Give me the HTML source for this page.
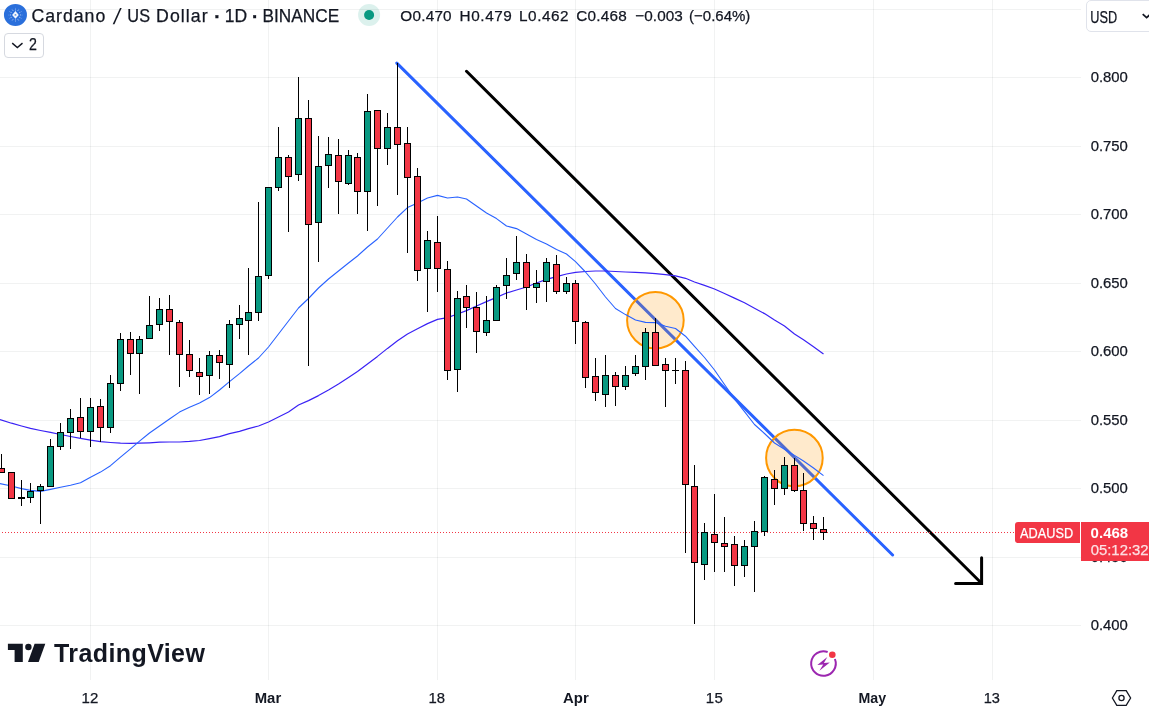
<!DOCTYPE html><html><head><meta charset="utf-8"><title>ADAUSD</title><style>
html,body{margin:0;padding:0;background:#fff;}
body{width:1149px;height:707px;position:relative;overflow:hidden;font-family:"Liberation Sans",sans-serif;color:#131722;}
.t{position:absolute;white-space:nowrap;line-height:1;-webkit-text-stroke:0.25px currentColor;}
.ax{font-size:14.5px;left:1091px;}
.tx{font-size:14.5px;transform:translateX(-50%);top:690px;}
.b{font-weight:bold;}
</style></head><body>
<svg width="1149" height="707" viewBox="0 0 1149 707" style="position:absolute;left:0;top:0">
<g shape-rendering="crispEdges" stroke="rgba(35,50,45,0.062)" stroke-width="1">
<line x1="90.5" y1="0" x2="90.5" y2="680"/>
<line x1="268.5" y1="0" x2="268.5" y2="680"/>
<line x1="437.5" y1="0" x2="437.5" y2="680"/>
<line x1="575.5" y1="0" x2="575.5" y2="680"/>
<line x1="714.5" y1="0" x2="714.5" y2="680"/>
<line x1="873.5" y1="0" x2="873.5" y2="680"/>
<line x1="992.5" y1="0" x2="992.5" y2="680"/>
<line x1="0" y1="9.5" x2="1081" y2="9.5"/>
<line x1="0" y1="77.5" x2="1081" y2="77.5"/>
<line x1="0" y1="146.5" x2="1081" y2="146.5"/>
<line x1="0" y1="214.5" x2="1081" y2="214.5"/>
<line x1="0" y1="283.5" x2="1081" y2="283.5"/>
<line x1="0" y1="351.5" x2="1081" y2="351.5"/>
<line x1="0" y1="420.5" x2="1081" y2="420.5"/>
<line x1="0" y1="488.5" x2="1081" y2="488.5"/>
<line x1="0" y1="557.5" x2="1081" y2="557.5"/>
<line x1="0" y1="625.5" x2="1081" y2="625.5"/>
</g>
<line x1="396.8" y1="63.1" x2="892.6" y2="555" stroke="#2962FF" stroke-width="3" stroke-linecap="round"/>
<circle cx="655.4" cy="320.3" r="28.3" fill="rgba(255,152,0,0.2)" stroke="#FF9800" stroke-width="2"/>
<circle cx="794.4" cy="458" r="28.3" fill="rgba(255,152,0,0.2)" stroke="#FF9800" stroke-width="2"/>
<g stroke="#000" stroke-width="3" stroke-linecap="round" fill="none"><line x1="466.5" y1="71.3" x2="981.5" y2="583.3"/><polyline points="955.6,583.4 981.6,583.4 981.6,557.8" stroke-linejoin="miter"/></g>
<line x1="-1" y1="532.5" x2="1015" y2="532.5" stroke="#F23645" stroke-width="1" stroke-dasharray="1 2" shape-rendering="crispEdges"/>
<polyline fill="none" stroke="#3A22F5" stroke-width="1.2" stroke-linejoin="round" points="0,419.5 11.5,423.2 21.5,426 30.5,428.4 40.5,430.5 50.5,432.4 60.5,434.5 70.5,436.5 80.5,438.4 90.5,440.2 100.5,441.7 110.5,442.5 120.5,443.1 130.5,443.4 139.5,443.2 149.5,442.8 159.5,442.2 169.5,442 179.5,442 189.5,441.4 199.5,440.5 209.5,438.6 219.5,436.6 229.5,433.6 239.5,431.4 248.5,428.6 258.5,426 268.5,422 278.5,417 288.5,412 298.5,405 308.5,400.6 318.5,395.6 328.5,390 338.5,384 348.5,377.6 357.5,371.6 367.5,364 377.5,356.4 387.5,348.4 397.5,340.8 407.5,334 417.5,328.8 427.5,323.6 437.5,319.4 447.5,317.6 457.5,314 466.5,310.6 476.5,306 486.5,301.6 496.5,297.4 506.5,293 516.5,290 526.5,287 536.5,283 546.5,279.4 556.5,276.6 566.5,274 575.5,272.3 585.5,271.5 595.5,271 605.5,271 615.5,271.5 625.5,272 635.5,272.4 645.5,272.8 655.5,273.6 665.5,274.6 675.5,275.8 685.5,278.3 694.5,282 704.5,285.4 714.5,289 724.5,293.5 734.5,298.1 744.5,302.8 754.5,308.2 764.5,313.6 774.5,320 784.5,326 794.5,334 803.5,339.8 813.5,346.8 823.5,354"/>
<polyline fill="none" stroke="#2962FF" stroke-width="1.1" stroke-linejoin="round" points="0,483.6 11.5,486 21.5,488.6 30.5,490.4 40.5,491.4 50.5,489.4 60.5,487.2 70.5,485.2 80.5,482.8 90.5,477.2 100.5,472.1 110.5,465.7 120.5,457.2 130.5,448.8 139.5,441.2 149.5,433 159.5,426 169.5,419 179.5,412.1 189.5,407.2 199.5,403 209.5,397.6 219.5,390 229.5,381.6 239.5,373.6 248.5,366 258.5,358 268.5,347 278.5,334 288.5,321 298.5,308 308.5,298.5 318.5,288 328.5,279 338.5,271 348.5,263 357.5,256 367.5,247 377.5,239 387.5,228 397.5,217 407.5,207.6 417.5,203 427.5,198 437.5,195.4 447.5,198 457.5,197 466.5,199 476.5,206 486.5,213 496.5,218.6 506.5,226 516.5,228.6 526.5,234 536.5,239.6 546.5,244 556.5,249.4 566.5,254 575.5,261.6 585.5,272 595.5,284 605.5,297 615.5,308.5 625.5,314.6 635.5,320 645.5,322.4 655.5,322.6 665.5,326.3 675.5,328.5 685.5,336.2 694.5,346.3 704.5,357.5 714.5,370 724.5,384.5 734.5,398.8 744.5,411.6 754.5,424.5 764.5,433.5 774.5,443 784.5,449.3 794.5,455.4 803.5,461 813.5,468 823.5,475.6"/>
<g shape-rendering="crispEdges">
<rect x="1.0" y="454" width="1" height="18" fill="#000"/>
<rect x="-2.0" y="468" width="7" height="5" fill="#000"/>
<rect x="-1.0" y="469" width="5" height="3" fill="#F23645"/>
<rect x="11.0" y="472" width="1" height="27" fill="#000"/>
<rect x="8.0" y="472" width="7" height="27" fill="#000"/>
<rect x="9.0" y="473" width="5" height="25" fill="#F23645"/>
<rect x="21.0" y="480" width="1" height="26" fill="#000"/>
<rect x="18.0" y="497" width="7" height="2" fill="#000"/>
<rect x="30.0" y="483" width="1" height="20" fill="#000"/>
<rect x="27.0" y="491" width="7" height="7" fill="#000"/>
<rect x="28.0" y="492" width="5" height="5" fill="#089981"/>
<rect x="40.0" y="484" width="1" height="40" fill="#000"/>
<rect x="37.0" y="486" width="7" height="5" fill="#000"/>
<rect x="38.0" y="487" width="5" height="3" fill="#089981"/>
<rect x="50.0" y="439" width="1" height="47" fill="#000"/>
<rect x="47.0" y="446" width="7" height="41" fill="#000"/>
<rect x="48.0" y="447" width="5" height="39" fill="#089981"/>
<rect x="60.0" y="423" width="1" height="27" fill="#000"/>
<rect x="57.0" y="432" width="7" height="15" fill="#000"/>
<rect x="58.0" y="433" width="5" height="13" fill="#089981"/>
<rect x="70.0" y="409" width="1" height="40" fill="#000"/>
<rect x="67.0" y="418" width="7" height="15" fill="#000"/>
<rect x="68.0" y="419" width="5" height="13" fill="#089981"/>
<rect x="80.0" y="398" width="1" height="40" fill="#000"/>
<rect x="77.0" y="417" width="7" height="15" fill="#000"/>
<rect x="78.0" y="418" width="5" height="13" fill="#F23645"/>
<rect x="90.0" y="398" width="1" height="49" fill="#000"/>
<rect x="87.0" y="407" width="7" height="25" fill="#000"/>
<rect x="88.0" y="408" width="5" height="23" fill="#089981"/>
<rect x="100.0" y="399" width="1" height="43" fill="#000"/>
<rect x="97.0" y="406" width="7" height="22" fill="#000"/>
<rect x="98.0" y="407" width="5" height="20" fill="#F23645"/>
<rect x="110.0" y="375" width="1" height="58" fill="#000"/>
<rect x="107.0" y="383" width="7" height="45" fill="#000"/>
<rect x="108.0" y="384" width="5" height="43" fill="#089981"/>
<rect x="120.0" y="333" width="1" height="58" fill="#000"/>
<rect x="117.0" y="339" width="7" height="45" fill="#000"/>
<rect x="118.0" y="340" width="5" height="43" fill="#089981"/>
<rect x="130.0" y="332" width="1" height="43" fill="#000"/>
<rect x="127.0" y="339" width="7" height="15" fill="#000"/>
<rect x="128.0" y="340" width="5" height="13" fill="#F23645"/>
<rect x="139.0" y="336" width="1" height="58" fill="#000"/>
<rect x="136.0" y="339" width="7" height="15" fill="#000"/>
<rect x="137.0" y="340" width="5" height="13" fill="#089981"/>
<rect x="149.0" y="296" width="1" height="42" fill="#000"/>
<rect x="146.0" y="325" width="7" height="14" fill="#000"/>
<rect x="147.0" y="326" width="5" height="12" fill="#089981"/>
<rect x="159.0" y="298" width="1" height="33" fill="#000"/>
<rect x="156.0" y="309" width="7" height="16" fill="#000"/>
<rect x="157.0" y="310" width="5" height="14" fill="#089981"/>
<rect x="169.0" y="295" width="1" height="60" fill="#000"/>
<rect x="166.0" y="309" width="7" height="13" fill="#000"/>
<rect x="167.0" y="310" width="5" height="11" fill="#F23645"/>
<rect x="179.0" y="320" width="1" height="67" fill="#000"/>
<rect x="176.0" y="322" width="7" height="33" fill="#000"/>
<rect x="177.0" y="323" width="5" height="31" fill="#F23645"/>
<rect x="189.0" y="340" width="1" height="37" fill="#000"/>
<rect x="186.0" y="354" width="7" height="17" fill="#000"/>
<rect x="187.0" y="355" width="5" height="15" fill="#F23645"/>
<rect x="199.0" y="358" width="1" height="37" fill="#000"/>
<rect x="196.0" y="372" width="7" height="5" fill="#000"/>
<rect x="197.0" y="373" width="5" height="3" fill="#F23645"/>
<rect x="209.0" y="351" width="1" height="43" fill="#000"/>
<rect x="206.0" y="355" width="7" height="21" fill="#000"/>
<rect x="207.0" y="356" width="5" height="19" fill="#089981"/>
<rect x="219.0" y="350" width="1" height="29" fill="#000"/>
<rect x="216.0" y="355" width="7" height="8" fill="#000"/>
<rect x="217.0" y="356" width="5" height="6" fill="#F23645"/>
<rect x="229.0" y="320" width="1" height="68" fill="#000"/>
<rect x="226.0" y="324" width="7" height="41" fill="#000"/>
<rect x="227.0" y="325" width="5" height="39" fill="#089981"/>
<rect x="239.0" y="305" width="1" height="34" fill="#000"/>
<rect x="236.0" y="318" width="7" height="7" fill="#000"/>
<rect x="237.0" y="319" width="5" height="5" fill="#089981"/>
<rect x="248.0" y="268" width="1" height="87" fill="#000"/>
<rect x="245.0" y="312" width="7" height="9" fill="#000"/>
<rect x="246.0" y="313" width="5" height="7" fill="#089981"/>
<rect x="258.0" y="202" width="1" height="119" fill="#000"/>
<rect x="255.0" y="276" width="7" height="37" fill="#000"/>
<rect x="256.0" y="277" width="5" height="35" fill="#089981"/>
<rect x="268.0" y="187" width="1" height="92" fill="#000"/>
<rect x="265.0" y="187" width="7" height="89" fill="#000"/>
<rect x="266.0" y="188" width="5" height="87" fill="#089981"/>
<rect x="278.0" y="127" width="1" height="64" fill="#000"/>
<rect x="275.0" y="157" width="7" height="31" fill="#000"/>
<rect x="276.0" y="158" width="5" height="29" fill="#089981"/>
<rect x="288.0" y="155" width="1" height="77" fill="#000"/>
<rect x="285.0" y="157" width="7" height="20" fill="#000"/>
<rect x="286.0" y="158" width="5" height="18" fill="#F23645"/>
<rect x="298.0" y="77" width="1" height="104" fill="#000"/>
<rect x="295.0" y="118" width="7" height="57" fill="#000"/>
<rect x="296.0" y="119" width="5" height="55" fill="#089981"/>
<rect x="308.0" y="100" width="1" height="266" fill="#000"/>
<rect x="305.0" y="118" width="7" height="107" fill="#000"/>
<rect x="306.0" y="119" width="5" height="105" fill="#F23645"/>
<rect x="318.0" y="136" width="1" height="126" fill="#000"/>
<rect x="315.0" y="166" width="7" height="57" fill="#000"/>
<rect x="316.0" y="167" width="5" height="55" fill="#089981"/>
<rect x="328.0" y="137" width="1" height="51" fill="#000"/>
<rect x="325.0" y="154" width="7" height="12" fill="#000"/>
<rect x="326.0" y="155" width="5" height="10" fill="#089981"/>
<rect x="338.0" y="139" width="1" height="75" fill="#000"/>
<rect x="335.0" y="155" width="7" height="27" fill="#000"/>
<rect x="336.0" y="156" width="5" height="25" fill="#F23645"/>
<rect x="348.0" y="150" width="1" height="35" fill="#000"/>
<rect x="345.0" y="155" width="7" height="29" fill="#000"/>
<rect x="346.0" y="156" width="5" height="27" fill="#089981"/>
<rect x="357.0" y="153" width="1" height="61" fill="#000"/>
<rect x="354.0" y="157" width="7" height="35" fill="#000"/>
<rect x="355.0" y="158" width="5" height="33" fill="#F23645"/>
<rect x="367.0" y="94" width="1" height="137" fill="#000"/>
<rect x="364.0" y="111" width="7" height="81" fill="#000"/>
<rect x="365.0" y="112" width="5" height="79" fill="#089981"/>
<rect x="377.0" y="110" width="1" height="96" fill="#000"/>
<rect x="374.0" y="110" width="7" height="39" fill="#000"/>
<rect x="375.0" y="111" width="5" height="37" fill="#F23645"/>
<rect x="387.0" y="113" width="1" height="52" fill="#000"/>
<rect x="384.0" y="127" width="7" height="22" fill="#000"/>
<rect x="385.0" y="128" width="5" height="20" fill="#089981"/>
<rect x="397.0" y="63" width="1" height="132" fill="#000"/>
<rect x="394.0" y="127" width="7" height="18" fill="#000"/>
<rect x="395.0" y="128" width="5" height="16" fill="#F23645"/>
<rect x="407.0" y="127" width="1" height="126" fill="#000"/>
<rect x="404.0" y="143" width="7" height="35" fill="#000"/>
<rect x="405.0" y="144" width="5" height="33" fill="#F23645"/>
<rect x="417.0" y="168" width="1" height="113" fill="#000"/>
<rect x="414.0" y="176" width="7" height="95" fill="#000"/>
<rect x="415.0" y="177" width="5" height="93" fill="#F23645"/>
<rect x="427.0" y="231" width="1" height="81" fill="#000"/>
<rect x="424.0" y="240" width="7" height="29" fill="#000"/>
<rect x="425.0" y="241" width="5" height="27" fill="#089981"/>
<rect x="437.0" y="216" width="1" height="76" fill="#000"/>
<rect x="434.0" y="242" width="7" height="27" fill="#000"/>
<rect x="435.0" y="243" width="5" height="25" fill="#F23645"/>
<rect x="447.0" y="261" width="1" height="119" fill="#000"/>
<rect x="444.0" y="269" width="7" height="102" fill="#000"/>
<rect x="445.0" y="270" width="5" height="100" fill="#F23645"/>
<rect x="457.0" y="291" width="1" height="101" fill="#000"/>
<rect x="454.0" y="298" width="7" height="72" fill="#000"/>
<rect x="455.0" y="299" width="5" height="70" fill="#089981"/>
<rect x="466.0" y="285" width="1" height="43" fill="#000"/>
<rect x="463.0" y="296" width="7" height="12" fill="#000"/>
<rect x="464.0" y="297" width="5" height="10" fill="#F23645"/>
<rect x="476.0" y="292" width="1" height="61" fill="#000"/>
<rect x="473.0" y="307" width="7" height="25" fill="#000"/>
<rect x="474.0" y="308" width="5" height="23" fill="#F23645"/>
<rect x="486.0" y="296" width="1" height="40" fill="#000"/>
<rect x="483.0" y="320" width="7" height="13" fill="#000"/>
<rect x="484.0" y="321" width="5" height="11" fill="#089981"/>
<rect x="496.0" y="285" width="1" height="35" fill="#000"/>
<rect x="493.0" y="287" width="7" height="34" fill="#000"/>
<rect x="494.0" y="288" width="5" height="32" fill="#089981"/>
<rect x="506.0" y="258" width="1" height="41" fill="#000"/>
<rect x="503.0" y="275" width="7" height="11" fill="#000"/>
<rect x="504.0" y="276" width="5" height="9" fill="#089981"/>
<rect x="516.0" y="236" width="1" height="44" fill="#000"/>
<rect x="513.0" y="262" width="7" height="12" fill="#000"/>
<rect x="514.0" y="263" width="5" height="10" fill="#089981"/>
<rect x="526.0" y="254" width="1" height="56" fill="#000"/>
<rect x="523.0" y="262" width="7" height="26" fill="#000"/>
<rect x="524.0" y="263" width="5" height="24" fill="#F23645"/>
<rect x="536.0" y="270" width="1" height="33" fill="#000"/>
<rect x="533.0" y="283" width="7" height="5" fill="#000"/>
<rect x="534.0" y="284" width="5" height="3" fill="#089981"/>
<rect x="546.0" y="258" width="1" height="44" fill="#000"/>
<rect x="543.0" y="262" width="7" height="20" fill="#000"/>
<rect x="544.0" y="263" width="5" height="18" fill="#089981"/>
<rect x="556.0" y="255" width="1" height="39" fill="#000"/>
<rect x="553.0" y="264" width="7" height="28" fill="#000"/>
<rect x="554.0" y="265" width="5" height="26" fill="#F23645"/>
<rect x="566.0" y="277" width="1" height="17" fill="#000"/>
<rect x="563.0" y="283" width="7" height="9" fill="#000"/>
<rect x="564.0" y="284" width="5" height="7" fill="#089981"/>
<rect x="575.0" y="280" width="1" height="64" fill="#000"/>
<rect x="572.0" y="283" width="7" height="39" fill="#000"/>
<rect x="573.0" y="284" width="5" height="37" fill="#F23645"/>
<rect x="585.0" y="321" width="1" height="67" fill="#000"/>
<rect x="582.0" y="322" width="7" height="56" fill="#000"/>
<rect x="583.0" y="323" width="5" height="54" fill="#F23645"/>
<rect x="595.0" y="358" width="1" height="43" fill="#000"/>
<rect x="592.0" y="376" width="7" height="17" fill="#000"/>
<rect x="593.0" y="377" width="5" height="15" fill="#F23645"/>
<rect x="605.0" y="355" width="1" height="52" fill="#000"/>
<rect x="602.0" y="375" width="7" height="20" fill="#000"/>
<rect x="603.0" y="376" width="5" height="18" fill="#089981"/>
<rect x="615.0" y="372" width="1" height="34" fill="#000"/>
<rect x="612.0" y="375" width="7" height="12" fill="#000"/>
<rect x="613.0" y="376" width="5" height="10" fill="#F23645"/>
<rect x="625.0" y="366" width="1" height="24" fill="#000"/>
<rect x="622.0" y="375" width="7" height="12" fill="#000"/>
<rect x="623.0" y="376" width="5" height="10" fill="#089981"/>
<rect x="635.0" y="355" width="1" height="21" fill="#000"/>
<rect x="632.0" y="366" width="7" height="8" fill="#000"/>
<rect x="633.0" y="367" width="5" height="6" fill="#089981"/>
<rect x="645.0" y="328" width="1" height="52" fill="#000"/>
<rect x="642.0" y="332" width="7" height="35" fill="#000"/>
<rect x="643.0" y="333" width="5" height="33" fill="#089981"/>
<rect x="655.0" y="318" width="1" height="47" fill="#000"/>
<rect x="652.0" y="332" width="7" height="34" fill="#000"/>
<rect x="653.0" y="333" width="5" height="32" fill="#F23645"/>
<rect x="665.0" y="358" width="1" height="49" fill="#000"/>
<rect x="662.0" y="364" width="7" height="7" fill="#000"/>
<rect x="663.0" y="365" width="5" height="5" fill="#F23645"/>
<rect x="675.0" y="358" width="1" height="26" fill="#000"/>
<rect x="672.0" y="370" width="7" height="1" fill="#000"/>
<rect x="685.0" y="361" width="1" height="192" fill="#000"/>
<rect x="682.0" y="370" width="7" height="115" fill="#000"/>
<rect x="683.0" y="371" width="5" height="113" fill="#F23645"/>
<rect x="694.0" y="465" width="1" height="159" fill="#000"/>
<rect x="691.0" y="486" width="7" height="77" fill="#000"/>
<rect x="692.0" y="487" width="5" height="75" fill="#F23645"/>
<rect x="704.0" y="523" width="1" height="57" fill="#000"/>
<rect x="701.0" y="532" width="7" height="33" fill="#000"/>
<rect x="702.0" y="533" width="5" height="31" fill="#089981"/>
<rect x="714.0" y="494" width="1" height="78" fill="#000"/>
<rect x="711.0" y="534" width="7" height="9" fill="#000"/>
<rect x="712.0" y="535" width="5" height="7" fill="#F23645"/>
<rect x="724.0" y="517" width="1" height="55" fill="#000"/>
<rect x="721.0" y="543" width="7" height="4" fill="#000"/>
<rect x="722.0" y="544" width="5" height="2" fill="#F23645"/>
<rect x="734.0" y="536" width="1" height="50" fill="#000"/>
<rect x="731.0" y="544" width="7" height="22" fill="#000"/>
<rect x="732.0" y="545" width="5" height="20" fill="#F23645"/>
<rect x="744.0" y="540" width="1" height="37" fill="#000"/>
<rect x="741.0" y="546" width="7" height="20" fill="#000"/>
<rect x="742.0" y="547" width="5" height="18" fill="#089981"/>
<rect x="754.0" y="521" width="1" height="71" fill="#000"/>
<rect x="751.0" y="531" width="7" height="16" fill="#000"/>
<rect x="752.0" y="532" width="5" height="14" fill="#089981"/>
<rect x="764.0" y="476" width="1" height="60" fill="#000"/>
<rect x="761.0" y="477" width="7" height="55" fill="#000"/>
<rect x="762.0" y="478" width="5" height="53" fill="#089981"/>
<rect x="774.0" y="470" width="1" height="35" fill="#000"/>
<rect x="771.0" y="479" width="7" height="10" fill="#000"/>
<rect x="772.0" y="480" width="5" height="8" fill="#F23645"/>
<rect x="784.0" y="457" width="1" height="38" fill="#000"/>
<rect x="781.0" y="465" width="7" height="24" fill="#000"/>
<rect x="782.0" y="466" width="5" height="22" fill="#089981"/>
<rect x="794.0" y="458" width="1" height="34" fill="#000"/>
<rect x="791.0" y="465" width="7" height="26" fill="#000"/>
<rect x="792.0" y="466" width="5" height="24" fill="#F23645"/>
<rect x="803.0" y="473" width="1" height="58" fill="#000"/>
<rect x="800.0" y="490" width="7" height="34" fill="#000"/>
<rect x="801.0" y="491" width="5" height="32" fill="#F23645"/>
<rect x="813.0" y="516" width="1" height="24" fill="#000"/>
<rect x="810.0" y="523" width="7" height="6" fill="#000"/>
<rect x="811.0" y="524" width="5" height="4" fill="#F23645"/>
<rect x="823.0" y="517" width="1" height="23" fill="#000"/>
<rect x="820.0" y="529" width="7" height="4" fill="#000"/>
<rect x="821.0" y="530" width="5" height="2" fill="#F23645"/>
</g>
<g fill="none" stroke="#9C27B0" stroke-width="2"><path d="M827.66,651.94 A12.3,12.3 0 1 0 834.9,659.0"/></g>
<path d="M827.3,656.9 L817.3,664.9 L823.2,664.5 L819.4,670.7 L829.8,662.5 L823.9,662.9 Z" fill="#9C27B0"/>
<circle cx="832.3" cy="654.8" r="3.3" fill="#F23645"/>
<g fill="none" stroke="#131722" stroke-width="1.3"><polygon points="1112.4,698 1116.8,690.6 1126.2,690.6 1130.6,698 1126.2,705.4 1116.8,705.4"/><circle cx="1121.5" cy="698" r="2.6"/></g>
<g fill="#131722"><path d="M7.9,643.8 H22.8 V662 H14.6 V650.1 H7.9 Z"/><circle cx="28.4" cy="647" r="3.2"/><path d="M34.6,643.8 H45.3 L38.7,662 H28 Z"/></g>
<ellipse cx="15.45" cy="14.9" rx="11.5" ry="11" fill="#2A6FDB"/>
<polygon points="15.45,11.0 18.75,14.9 15.45,18.8 12.149999999999999,14.9" fill="#fff" fill-opacity="0.95"/>
<ellipse cx="15.45" cy="14.9" rx="1.0" ry="0.7" fill="#2A6FDB"/>
<circle cx="20.45" cy="14.90" r="0.55" fill="#fff" fill-opacity="0.55"/>
<circle cx="19.78" cy="17.40" r="0.55" fill="#fff" fill-opacity="0.55"/>
<circle cx="17.95" cy="19.23" r="0.55" fill="#fff" fill-opacity="0.55"/>
<circle cx="15.45" cy="19.90" r="0.55" fill="#fff" fill-opacity="0.55"/>
<circle cx="12.95" cy="19.23" r="0.55" fill="#fff" fill-opacity="0.55"/>
<circle cx="11.12" cy="17.40" r="0.55" fill="#fff" fill-opacity="0.55"/>
<circle cx="10.45" cy="14.90" r="0.55" fill="#fff" fill-opacity="0.55"/>
<circle cx="11.12" cy="12.40" r="0.55" fill="#fff" fill-opacity="0.55"/>
<circle cx="12.95" cy="10.57" r="0.55" fill="#fff" fill-opacity="0.55"/>
<circle cx="15.45" cy="9.90" r="0.55" fill="#fff" fill-opacity="0.55"/>
<circle cx="17.95" cy="10.57" r="0.55" fill="#fff" fill-opacity="0.55"/>
<circle cx="19.78" cy="12.40" r="0.55" fill="#fff" fill-opacity="0.55"/>
<circle cx="22.05" cy="14.90" r="0.5" fill="#fff" fill-opacity="0.35"/>
<circle cx="21.17" cy="18.20" r="0.5" fill="#fff" fill-opacity="0.35"/>
<circle cx="18.75" cy="20.62" r="0.5" fill="#fff" fill-opacity="0.35"/>
<circle cx="15.45" cy="21.50" r="0.5" fill="#fff" fill-opacity="0.35"/>
<circle cx="12.15" cy="20.62" r="0.5" fill="#fff" fill-opacity="0.35"/>
<circle cx="9.73" cy="18.20" r="0.5" fill="#fff" fill-opacity="0.35"/>
<circle cx="8.85" cy="14.90" r="0.5" fill="#fff" fill-opacity="0.35"/>
<circle cx="9.73" cy="11.60" r="0.5" fill="#fff" fill-opacity="0.35"/>
<circle cx="12.15" cy="9.18" r="0.5" fill="#fff" fill-opacity="0.35"/>
<circle cx="15.45" cy="8.30" r="0.5" fill="#fff" fill-opacity="0.35"/>
<circle cx="18.75" cy="9.18" r="0.5" fill="#fff" fill-opacity="0.35"/>
<circle cx="21.17" cy="11.60" r="0.5" fill="#fff" fill-opacity="0.35"/>
<circle cx="369.1" cy="14.9" r="11" fill="#089981" fill-opacity="0.14"/><circle cx="369.1" cy="14.95" r="5" fill="#089981"/>
<path d="M12.2,43.1 L17.35,47.5 L22.5,43.1" fill="none" stroke="#131722" stroke-width="1.4"/>
<path d="M1142.7,14.1 L1146.6,17.6 L1150.5,14.1" fill="none" stroke="#131722" stroke-width="1.8"/>
</svg>
<div class="t" style="left:31px;top:7px;font-size:17.7px;letter-spacing:0.975px;color:#131722;transform:translate(0.55px,0.82px);transform-origin:0 0;">Cardano</div>
<div class="t" style="left:113.6px;top:5.9px;font-size:22px;-webkit-text-stroke:0;transform:skewX(-10deg);transform-origin:50% 50%;">/</div>
<div class="t" style="left:127px;top:7px;font-size:17.7px;letter-spacing:0.000px;color:#131722;transform:translate(0.36px,0.82px) scaleX(0.9220);transform-origin:0 0;">US</div>
<div class="t" style="left:156px;top:7px;font-size:17.7px;letter-spacing:1.070px;color:#131722;transform:translate(0.05px,0.82px);transform-origin:0 0;">Dollar</div>
<div class="t" style="left:211px;top:2px;font-size:25px;letter-spacing:0.000px;color:#131722;transform:translate(0.96px,0.94px) scaleX(1.1667);transform-origin:0 0;">·</div>
<div class="t" style="left:224px;top:7px;font-size:17.7px;letter-spacing:0.000px;color:#131722;transform:translate(0.71px,0.82px) scaleX(0.9902);transform-origin:0 0;">1D</div>
<div class="t" style="left:249px;top:2px;font-size:25px;letter-spacing:0.000px;color:#131722;transform:translate(0.66px,0.94px) scaleX(1.1667);transform-origin:0 0;">·</div>
<div class="t" style="left:262px;top:7px;font-size:17.7px;letter-spacing:0.000px;color:#131722;transform:translate(0.59px,0.82px) scaleX(0.9739);transform-origin:0 0;">BINANCE</div>
<div class="t" style="left:400px;top:7px;font-size:15.3px;letter-spacing:0.230px;color:#131722;transform:translate(0.30px,0.75px);transform-origin:0 0;">O0.470</div>
<div class="t" style="left:459px;top:7px;font-size:15.3px;letter-spacing:0.600px;color:#131722;transform:translate(0.55px,0.75px);transform-origin:0 0;">H0.479</div>
<div class="t" style="left:519px;top:7px;font-size:15.3px;letter-spacing:0.540px;color:#131722;transform:translate(0.05px,0.75px);transform-origin:0 0;">L0.462</div>
<div class="t" style="left:576px;top:7px;font-size:15.3px;letter-spacing:0.250px;color:#131722;transform:translate(0.25px,0.75px);transform-origin:0 0;">C0.468</div>
<div class="t" style="left:635px;top:7px;font-size:15.3px;letter-spacing:0.040px;color:#131722;transform:translate(0.35px,0.75px);transform-origin:0 0;">−0.003</div>
<div class="t" style="left:689px;top:7px;font-size:15.3px;letter-spacing:0.000px;color:#131722;transform:translate(0.02px,0.75px) scaleX(0.9810);transform-origin:0 0;">(−0.64%)</div>
<div style="position:absolute;left:4px;top:33px;width:38px;height:23px;border:1px solid #D6D9E0;border-radius:4px;"></div>
<div class="t" style="left:29px;top:36px;font-size:16.2px;letter-spacing:0.000px;color:#131722;transform:translate(0.10px,0.39px) scaleX(0.8784);transform-origin:0 0;">2</div>
<div style="position:absolute;left:1086px;top:0px;width:70px;height:30px;border:1px solid #E0E3EB;border-radius:5px;"></div>
<div class="t" style="left:1090px;top:9px;font-size:15.8px;letter-spacing:0.000px;color:#131722;transform:translate(0.33px,0.83px) scaleX(0.8045);transform-origin:0 0;">USD</div>
<div class="t" style="left:1090px;top:69px;font-size:15.2px;letter-spacing:0.000px;color:#131722;transform:translate(0.66px,0.38px) scaleX(0.9797);transform-origin:0 0;">0.800</div>
<div class="t" style="left:1090px;top:137px;font-size:15.2px;letter-spacing:0.000px;color:#131722;transform:translate(0.66px,0.88px) scaleX(0.9797);transform-origin:0 0;">0.750</div>
<div class="t" style="left:1090px;top:206px;font-size:15.2px;letter-spacing:0.000px;color:#131722;transform:translate(0.66px,0.38px) scaleX(0.9797);transform-origin:0 0;">0.700</div>
<div class="t" style="left:1090px;top:274px;font-size:15.2px;letter-spacing:0.000px;color:#131722;transform:translate(0.66px,0.88px) scaleX(0.9797);transform-origin:0 0;">0.650</div>
<div class="t" style="left:1090px;top:343px;font-size:15.2px;letter-spacing:0.000px;color:#131722;transform:translate(0.66px,0.38px) scaleX(0.9797);transform-origin:0 0;">0.600</div>
<div class="t" style="left:1090px;top:411px;font-size:15.2px;letter-spacing:0.000px;color:#131722;transform:translate(0.66px,0.88px) scaleX(0.9797);transform-origin:0 0;">0.550</div>
<div class="t" style="left:1090px;top:480px;font-size:15.2px;letter-spacing:0.000px;color:#131722;transform:translate(0.66px,0.38px) scaleX(0.9797);transform-origin:0 0;">0.500</div>
<div class="t" style="left:1090px;top:548px;font-size:15.2px;letter-spacing:0.000px;color:#131722;transform:translate(0.66px,0.88px) scaleX(0.9797);transform-origin:0 0;">0.450</div>
<div class="t" style="left:1090px;top:617px;font-size:15.2px;letter-spacing:0.000px;color:#131722;transform:translate(0.66px,0.38px) scaleX(0.9797);transform-origin:0 0;">0.400</div>
<div style="position:absolute;left:1015px;top:522px;width:65px;height:21px;background:#F23645;border-radius:3px 0 0 3px;"></div>
<div style="position:absolute;left:1081px;top:522px;width:68px;height:39px;background:#F23645;"></div>
<div class="t" style="left:1020px;top:525px;font-size:14.7px;letter-spacing:0.000px;color:#fff;transform:translate(0.10px,0.81px) scaleX(0.8663);transform-origin:0 0;">ADAUSD</div>
<div class="t" style="left:1090px;top:524px;font-size:15.2px;letter-spacing:0.000px;color:#fff;transform:translate(0.61px,0.83px) scaleX(0.9892);transform-origin:0 0;font-weight:bold;-webkit-text-stroke:0;">0.468</div>
<div class="t" style="left:1090px;top:541px;font-size:15.2px;letter-spacing:0.000px;color:rgba(255,255,255,0.82);transform:translate(0.66px,0.93px) scaleX(0.9801);transform-origin:0 0;">05:12:32</div>
<div class="t" style="left:81px;top:689px;font-size:15.0px;letter-spacing:0.150px;color:#131722;transform:translate(0.50px,0.60px);transform-origin:0 0;">12</div>
<div class="t" style="left:254px;top:689px;font-size:15.0px;letter-spacing:0.000px;color:#131722;transform:translate(0.71px,0.60px) scaleX(0.9922);transform-origin:0 0;font-weight:bold;-webkit-text-stroke:0;">Mar</div>
<div class="t" style="left:428px;top:689px;font-size:15.0px;letter-spacing:0.000px;color:#131722;transform:translate(0.61px,0.60px) scaleX(0.9900);transform-origin:0 0;">18</div>
<div class="t" style="left:563px;top:689px;font-size:15.0px;letter-spacing:0.000px;color:#131722;transform:translate(0.05px,0.60px) scaleX(0.9921);transform-origin:0 0;font-weight:bold;-webkit-text-stroke:0;">Apr</div>
<div class="t" style="left:705px;top:689px;font-size:15.0px;letter-spacing:0.300px;color:#131722;transform:translate(0.80px,0.60px);transform-origin:0 0;">15</div>
<div class="t" style="left:858px;top:689px;font-size:15.0px;letter-spacing:0.000px;color:#131722;transform:translate(0.56px,0.60px) scaleX(0.9449);transform-origin:0 0;font-weight:bold;-webkit-text-stroke:0;">May</div>
<div class="t" style="left:983px;top:689px;font-size:15.0px;letter-spacing:0.000px;color:#131722;transform:translate(0.73px,0.60px) scaleX(0.9699);transform-origin:0 0;">13</div>
<div class="t" style="left:54px;top:640px;font-size:25px;letter-spacing:0.400px;color:#131722;transform:translate(0.05px,0.84px);transform-origin:0 0;font-weight:bold;-webkit-text-stroke:0;">TradingView</div>
</body></html>
